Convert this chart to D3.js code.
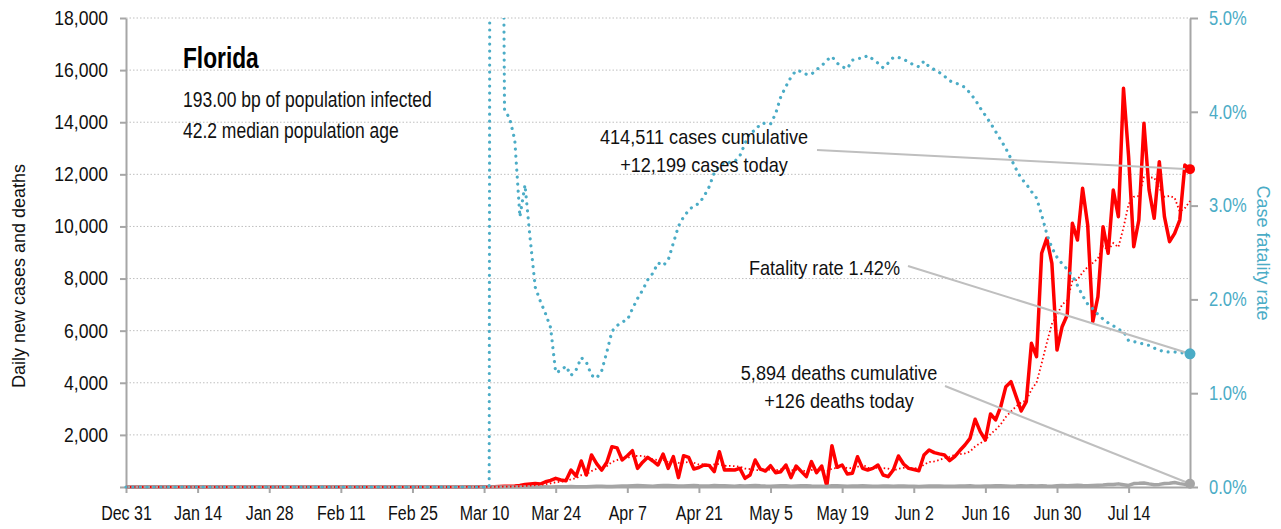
<!DOCTYPE html>
<html><head><meta charset="utf-8">
<script src="https://cdn.jsdelivr.net/npm/d3@7"></script>
<style>
html,body{margin:0;padding:0;background:#fff;}
svg{display:block;font-family:'Liberation Sans',Arial,sans-serif;}
</style></head><body>
<svg id="chart" width="1281" height="529"></svg>
<script>
// ---------- data ----------
const axisStart = "2019-12-31";
const axisEnd = "2020-07-26";
const seriesStart = "2020-03-01";

const tickDates = ["2019-12-31","2020-01-14","2020-01-28","2020-02-11","2020-02-25","2020-03-10","2020-03-24",
  "2020-04-07","2020-04-21","2020-05-05","2020-05-19","2020-06-02","2020-06-16","2020-06-30","2020-07-14"];
const tickLabels = ["Dec 31","Jan 14","Jan 28","Feb 11","Feb 25","Mar 10","Mar 24","Apr 7","Apr 21",
  "May 5","May 19","Jun 2","Jun 16","Jun 30","Jul 14"];

const caseTicks = [0,2000,4000,6000,8000,10000,12000,14000,16000,18000];
const caseTickLabels = ["","2,000","4,000","6,000","8,000","10,000","12,000","14,000","16,000","18,000"];
const pctTicks = [0,1,2,3,4,5];
const pctTickLabels = ["0.0%","1.0%","2.0%","3.0%","4.0%","5.0%"];

// daily new cases from Mar 1
const dailyCases = [
  2,0,1,3,2,4,5,3,6,13,
  12,10,20,30,28,40,60,100,115,130,
  115,200,250,333,270,243,652,422,998,460,
  1228,900,650,950,1548,1500,1036,1200,1394,716,
  950,1138,1000,844,1266,716,1164,358,1202,1138,
  690,750,844,830,588,1356,652,660,652,716,
  333,460,1036,690,614,818,549,588,844,358,
  806,600,397,972,550,806,38,1586,755,844,
  499,524,1164,716,652,716,844,460,397,652,
  1190,883,716,670,626,1228,1420,1318,1270,1228,
  1010,1164,1400,1612,1868,2598,2124,1804,2802,2572,
  3082,3850,4042,3480,2917,3274,5515,5001,8969,9545,
  8585,5258,6152,6601,10120,9480,11464,10055,6344,7304,
  9990,8969,11398,10374,15302,12677,9222,10247,13958,11398,
  10312,12485,10374,9414,9737,10247,12357,12199
];

// daily new deaths from Mar 1
const dailyDeaths = [
  0,0,0,0,0,2,0,0,0,0,
  0,0,2,1,2,0,3,2,4,3,
  3,5,4,7,10,8,15,12,14,10,
  20,25,30,20,15,25,35,40,50,60,
  50,40,30,45,55,60,50,35,40,50,
  55,45,40,35,60,50,45,40,30,45,
  40,50,60,45,35,30,40,50,45,30,
  40,45,50,35,30,25,20,50,45,40,
  30,35,40,45,40,30,25,35,40,30,
  35,40,30,25,20,30,35,40,35,30,
  30,25,35,40,45,30,25,35,40,45,
  45,40,30,35,45,40,45,40,50,35,
  30,45,55,50,60,70,55,45,60,70,
  80,100,95,120,90,60,130,140,155,120,
  90,100,135,140,170,130,100,126
];

// case fatality rate (%) from Mar 1
const fatalityRate = [
  0,0,0,0,0,0,0,0,0,0,
  0,50,12,4.02,3.93,3.7,2.88,3.22,2.65,2.13,
  1.98,1.85,1.7,1.22,1.24,1.29,1.19,1.25,1.38,1.33,
  1.19,1.16,1.24,1.44,1.66,1.72,1.76,1.78,1.9,2.01,
  2.1,2.21,2.28,2.39,2.36,2.42,2.6,2.78,2.88,2.95,
  3.0,3.02,3.1,3.2,3.35,3.42,3.46,3.46,3.47,3.53,
  3.66,3.78,3.8,3.87,3.88,3.87,3.98,4.16,4.27,4.37,
  4.44,4.43,4.4,4.4,4.45,4.49,4.55,4.59,4.52,4.48,
  4.46,4.55,4.57,4.57,4.6,4.56,4.52,4.47,4.52,4.58,
  4.58,4.56,4.53,4.5,4.48,4.54,4.48,4.45,4.42,4.38,
  4.33,4.31,4.29,4.26,4.2,4.13,4.04,3.96,3.88,3.79,
  3.7,3.61,3.5,3.39,3.29,3.23,3.15,3.08,2.9,2.7,
  2.55,2.45,2.38,2.32,2.25,2.15,2.04,1.95,1.9,1.84,
  1.79,1.75,1.72,1.68,1.66,1.56,1.55,1.54,1.52,1.51,
  1.48,1.46,1.44,1.44,1.44,1.43,1.43,1.42
];

const titleText = "Florida";
const subtitleLines = ["193.00 bp of population infected","42.2 median population age"];
const casesNote = ["414,511 cases cumulative","+12,199 cases today"];
const fatalityNote = "Fatality rate 1.42%";
const deathsNote = ["5,894 deaths cumulative","+126 deaths today"];
const leftAxisTitle = "Daily new cases and deaths";
const rightAxisTitle = "Case fatality rate";

// ---------- chart ----------
const COLORS = {cases:"#FF0000", deaths:"#A5A5A5", rate:"#4BACC6", axis:"#A6A6A6", grid:"#BFBFBF", text:"#111", leader:"#BFBFBF"};
const parse = d3.utcParse("%Y-%m-%d");
const DAY = 86400000;
const L = 126, R = 1190, T = 18, B = 487;

const svg = d3.select("#chart");
const x = d3.scaleUtc().domain([parse(axisStart), parse(axisEnd)]).range([L, R]);
const y = d3.scaleLinear().domain([0, 18000]).range([B, T]);
const yR = d3.scaleLinear().domain([0, 5]).range([B, T]);

const s0 = +parse(seriesStart);
function toSeries(arr){
  return [{d: parse(axisStart), v: 0}].concat(arr.map((v,i)=>({d: new Date(s0 + i*DAY), v})));
}
function rolling(arr){
  return arr.map((v,i)=>{ let s=0; for(let k=i-6;k<=i;k++){ s += k>=0 ? arr[k] : 0; } return s/7; });
}
const casePts = toSeries(dailyCases);
const deathPts = toSeries(dailyDeaths);
const caseAvgPts = toSeries(rolling(dailyCases));
const ratePts = toSeries(fatalityRate);

svg.append("defs").append("clipPath").attr("id","plot")
  .append("rect").attr("x", L-10).attr("y", T).attr("width", R-L+20).attr("height", B-T+10);

// grid
svg.append("g").selectAll("line").data(caseTicks.filter(t=>t>0)).join("line")
  .attr("x1", L).attr("x2", R).attr("y1", d=>y(d)).attr("y2", d=>y(d))
  .attr("stroke", COLORS.grid).attr("stroke-width", 1).attr("stroke-dasharray","1.5,2");

// condensed text helper (horizontal squeeze of a real text element)
function narrow(g, x0, y0, sx){
  return g.append("text").attr("transform", `translate(${x0},${y0}) scale(${sx},1)`);
}

// axes
function styleAxis(g, color, size, sx, xoff){
  g.select(".domain").attr("stroke", COLORS.axis).attr("stroke-width", 2);
  g.selectAll(".tick line").attr("stroke", COLORS.axis).attr("stroke-width", 2);
  g.selectAll(".tick text").attr("fill", color).attr("font-size", size)
    .attr("transform", `scale(${sx},1)`);
  if (xoff !== null) g.selectAll(".tick text").attr("x", xoff / sx);
}
const gL = svg.append("g").attr("transform",`translate(${L},0)`)
  .call(d3.axisLeft(y).tickValues(caseTicks).tickFormat((d,i)=>caseTickLabels[i]).tickSize(6).tickSizeOuter(0).tickPadding(12));
styleAxis(gL, COLORS.text, 20, 0.88, -18);

const gR = svg.append("g").attr("transform",`translate(${R},0)`)
  .call(d3.axisRight(yR).tickValues(pctTicks).tickFormat((d,i)=>pctTickLabels[i]).tickSize(8).tickSizeOuter(0).tickPadding(11));
styleAxis(gR, COLORS.rate, 19.5, 0.85, 19);

const gB = svg.append("g").attr("transform",`translate(0,${B})`)
  .call(d3.axisBottom(x).tickValues(tickDates.map(parse)).tickFormat((d,i)=>tickLabels[i]).tickSize(6).tickSizeOuter(0).tickPadding(13));
styleAxis(gB, COLORS.text, 20, 0.8, null);

// axis titles
svg.append("text").attr("transform",`translate(25,276) rotate(-90)`).attr("text-anchor","middle")
  .attr("font-size", 18).attr("fill", COLORS.text).text(leftAxisTitle);
svg.append("text").attr("transform",`translate(1257,253) rotate(90)`).attr("text-anchor","middle")
  .attr("font-size", 18).attr("fill", COLORS.rate).text(rightAxisTitle);

// lines
const line = (ys)=>d3.line().x(d=>x(d.d)).y(d=>ys(d.v));
const plot = svg.append("g").attr("clip-path","url(#plot)");
plot.append("path").datum(casePts).attr("d", line(y)).attr("fill","none")
  .attr("stroke", COLORS.cases).attr("stroke-width", 3.5).attr("stroke-linejoin","round");
plot.append("path").datum(deathPts).attr("d", line(y)).attr("fill","none")
  .attr("stroke", COLORS.deaths).attr("stroke-width", 3.5).attr("stroke-linejoin","round");
plot.append("path").datum(caseAvgPts).attr("d", line(y)).attr("fill","none")
  .attr("stroke", COLORS.cases).attr("stroke-width", 1.8).attr("stroke-dasharray","1.5,2.5");
plot.append("path").datum(ratePts).attr("d", line(yR)).attr("fill","none")
  .attr("stroke", COLORS.rate).attr("stroke-width", 3.2).attr("stroke-linecap","round").attr("stroke-dasharray","0.01,7");

// end points and leaders
const lastC = casePts[casePts.length-1], lastD = deathPts[deathPts.length-1], lastR = ratePts[ratePts.length-1];
const lead = svg.append("g").attr("stroke", COLORS.leader).attr("stroke-width", 2).attr("fill","none");
lead.append("line").attr("x1", 817).attr("y1", 150).attr("x2", x(lastC.d)).attr("y2", y(lastC.v));
lead.append("line").attr("x1", 908).attr("y1", 266).attr("x2", x(lastR.d)).attr("y2", yR(lastR.v));
lead.append("line").attr("x1", 945).attr("y1", 386).attr("x2", x(lastD.d)).attr("y2", y(lastD.v));

svg.append("circle").attr("cx", x(lastC.d)).attr("cy", y(lastC.v)).attr("r", 5).attr("fill", COLORS.cases);
svg.append("circle").attr("cx", x(lastR.d)).attr("cy", yR(lastR.v)).attr("r", 5.5).attr("fill", COLORS.rate);
svg.append("circle").attr("cx", x(lastD.d)).attr("cy", y(lastD.v)).attr("r", 5).attr("fill", COLORS.deaths);

// annotations
const ann = svg.append("g").attr("fill", COLORS.text).attr("font-size", 19.5);
const AS = 0.93;
narrow(ann, 704, 144, AS).attr("text-anchor","middle").text(casesNote[0]);
narrow(ann, 704, 172, AS).attr("text-anchor","middle").text(casesNote[1]);
narrow(ann, 900, 275, AS).attr("text-anchor","end").text(fatalityNote);
narrow(ann, 839, 380, AS).attr("text-anchor","middle").text(deathsNote[0]);
narrow(ann, 839, 408, AS).attr("text-anchor","middle").text(deathsNote[1]);

const head = svg.append("g").attr("fill", COLORS.text);
narrow(head, 183, 68, 0.77).attr("font-size", 29.5).attr("font-weight","bold").attr("fill","#000").text(titleText);
narrow(head, 183, 107, 0.795).attr("font-size", 22).text(subtitleLines[0]);
narrow(head, 183, 138, 0.795).attr("font-size", 22).text(subtitleLines[1]);
</script>
</body></html>
